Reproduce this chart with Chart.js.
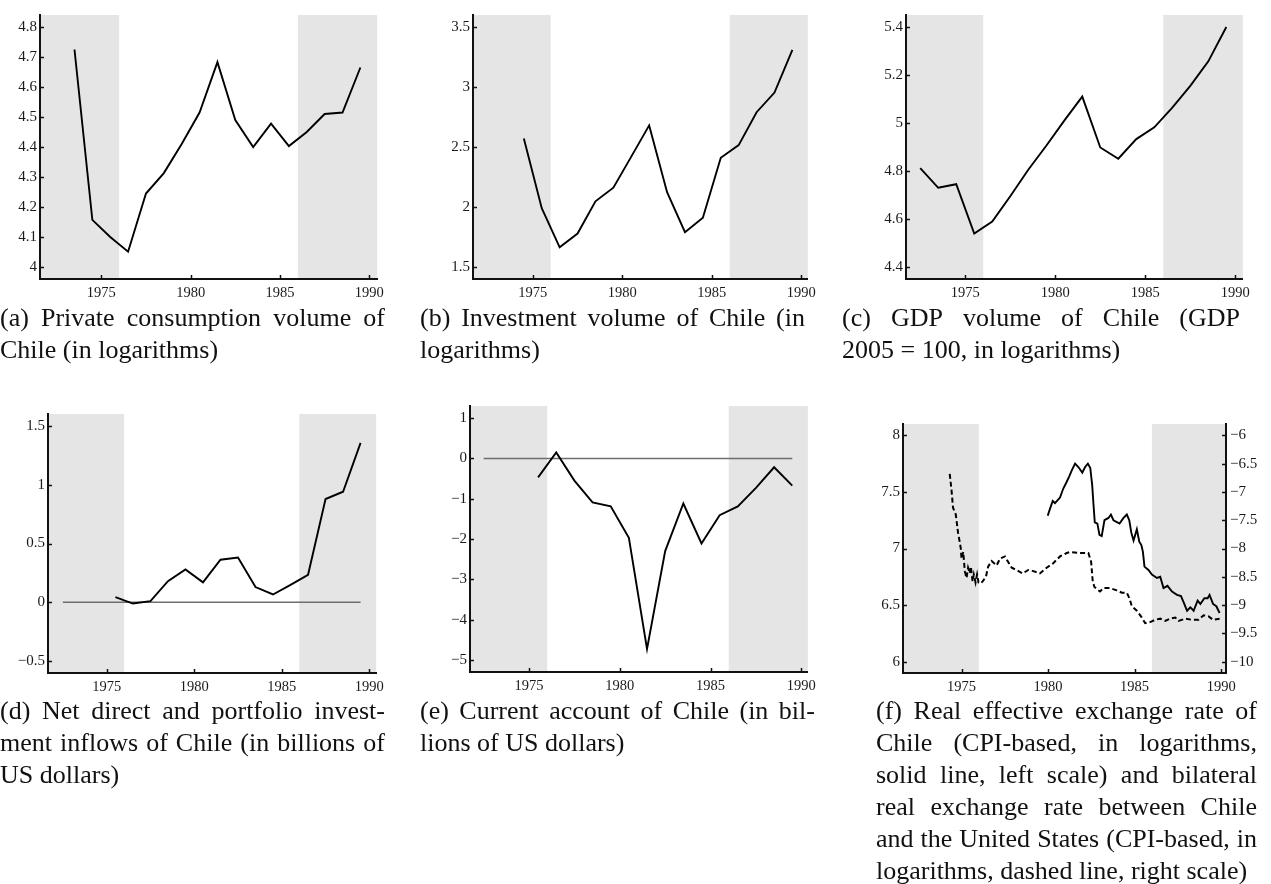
<!DOCTYPE html>
<html>
<head>
<meta charset="utf-8">
<script src="https://cdn.jsdelivr.net/npm/chart.js@4.4.1/dist/chart.umd.min.js"></script>
<style>
  body { margin: 0; background: #fff; width: 1271px; height: 884px; position: relative; overflow: hidden; }
  canvas { position: absolute; }
  .cap { position: absolute; font-family: 'Liberation Serif', 'Times New Roman', serif; font-size: 26px; line-height: 32px; color: #111; }
  .cap .j { display: flex; justify-content: space-between; white-space: nowrap; }
  .cap .l { white-space: nowrap; }
</style>
</head>
<body>
<script>
// shaded periods and axis ticks
const shadeEnds = 1976;
const shadeStarts = 1986;
const xTicks = [1975, 1980, 1985, 1990];

// (a) private consumption, logs
const consumptionYears = [1973.5, 1974.5, 1975.5, 1976.5, 1977.5, 1978.5, 1979.5, 1980.5, 1981.5, 1982.5, 1983.5, 1984.5, 1985.5, 1986.5, 1987.5, 1988.5, 1989.5];
const consumption = [4.725, 4.157, 4.10, 4.051, 4.245, 4.313, 4.41, 4.515, 4.683, 4.49, 4.40, 4.478, 4.403, 4.45, 4.51, 4.515, 4.665];
const consumptionTicks = [4, 4.1, 4.2, 4.3, 4.4, 4.5, 4.6, 4.7, 4.8];

// (b) investment, logs
const investmentYears = [1974.5, 1975.5, 1976.5, 1977.5, 1978.5, 1979.5, 1980.5, 1981.5, 1982.5, 1983.5, 1984.5, 1985.5, 1986.5, 1987.5, 1988.5, 1989.5];
const investment = [2.57, 1.99, 1.664, 1.779, 2.047, 2.161, 2.42, 2.68, 2.123, 1.79, 1.91, 2.41, 2.516, 2.79, 2.954, 3.309];
const investmentTicks = [1.5, 2, 2.5, 3, 3.5];

// (c) GDP volume, logs
const gdpYears = [1972.5, 1973.5, 1974.5, 1975.5, 1976.5, 1977.5, 1978.5, 1979.5, 1980.5, 1981.5, 1982.5, 1983.5, 1984.5, 1985.5, 1986.5, 1987.5, 1988.5, 1989.5];
const gdp = [4.812, 4.73, 4.745, 4.539, 4.589, 4.695, 4.805, 4.905, 5.01, 5.11, 4.898, 4.851, 4.933, 4.982, 5.064, 5.155, 5.257, 5.40];
const gdpTicks = [4.4, 4.6, 4.8, 5, 5.2, 5.4];

// (d) net direct and portfolio inflows, bn USD
const inflowYears = [1975.5, 1976.5, 1977.5, 1978.5, 1979.5, 1980.5, 1981.5, 1982.5, 1983.5, 1984.5, 1985.5, 1986.5, 1987.5, 1988.5, 1989.5];
const inflows = [0.045, -0.01, 0.01, 0.18, 0.28, 0.17, 0.362, 0.38, 0.13, 0.067, 0.148, 0.234, 0.878, 0.94, 1.355];
const inflowTicks = [-0.5, 0, 0.5, 1, 1.5];

// (e) current account, bn USD
const currentYears = [1975.5, 1976.5, 1977.5, 1978.5, 1979.5, 1980.5, 1981.5, 1982.5, 1983.5, 1984.5, 1985.5, 1986.5, 1987.5, 1988.5, 1989.5];
const currentAccount = [-0.47, 0.146, -0.55, -1.09, -1.19, -1.97, -4.73, -2.30, -1.12, -2.11, -1.41, -1.19, -0.73, -0.22, -0.675];
const currentTicks = [-5, -4, -3, -2, -1, 0, 1];

// zero reference line for (d) and (e)
const zeroYears = [1972.5, 1989.5];
const zeroLine = [0, 0];

// (f) real effective exchange rate (left scale)
const reerDates = [1979.98, 1980.11, 1980.27, 1980.40, 1980.69, 1980.88, 1981.08, 1981.23, 1981.37, 1981.56, 1981.75, 1981.98, 1982.14, 1982.30, 1982.44, 1982.55, 1982.62, 1982.70, 1982.85, 1982.97, 1983.10, 1983.26, 1983.49, 1983.63, 1983.78, 1984.13, 1984.36, 1984.55, 1984.69, 1984.81, 1984.94, 1985.13, 1985.27, 1985.39, 1985.48, 1985.57, 1985.80, 1986.00, 1986.29, 1986.48, 1986.67, 1986.90, 1987.16, 1987.45, 1987.68, 1987.87, 1988.03, 1988.22, 1988.41, 1988.64, 1988.80, 1989.03, 1989.22, 1989.33, 1989.53, 1989.72, 1989.91];
const reer = [7.29, 7.35, 7.42, 7.40, 7.45, 7.53, 7.59, 7.64, 7.69, 7.75, 7.72, 7.67, 7.72, 7.75, 7.71, 7.56, 7.40, 7.23, 7.22, 7.12, 7.11, 7.25, 7.27, 7.30, 7.25, 7.22, 7.27, 7.30, 7.25, 7.14, 7.07, 7.17, 7.06, 7.03, 6.97, 6.84, 6.81, 6.77, 6.74, 6.75, 6.65, 6.67, 6.62, 6.59, 6.58, 6.51, 6.45, 6.48, 6.45, 6.54, 6.51, 6.56, 6.56, 6.59, 6.51, 6.49, 6.43];
const reerTicks = [6, 6.5, 7, 7.5, 8];

// (f) bilateral real exchange rate Chile/US (right scale)
const bilateralDates = [1974.32, 1974.42, 1974.51, 1974.67, 1974.80, 1974.86, 1974.96, 1975.00, 1975.10, 1975.19, 1975.29, 1975.38, 1975.48, 1975.54, 1975.64, 1975.71, 1975.81, 1975.90, 1975.98, 1976.10, 1976.22, 1976.41, 1976.54, 1976.74, 1977.03, 1977.22, 1977.51, 1977.70, 1977.90, 1978.18, 1978.53, 1978.86, 1979.15, 1979.53, 1979.92, 1980.30, 1980.69, 1981.08, 1981.27, 1981.85, 1982.33, 1982.49, 1982.58, 1982.68, 1983.00, 1983.20, 1983.59, 1983.97, 1984.26, 1984.55, 1984.70, 1984.84, 1985.13, 1985.42, 1985.61, 1985.90, 1986.19, 1986.48, 1986.77, 1987.06, 1987.35, 1987.54, 1987.93, 1988.32, 1988.70, 1988.99, 1989.28, 1989.53, 1989.91];
const bilateral = [-6.68, -6.96, -7.28, -7.40, -7.72, -7.82, -8.00, -8.18, -8.06, -8.40, -8.52, -8.34, -8.44, -8.32, -8.58, -8.46, -8.60, -8.46, -8.60, -8.62, -8.58, -8.50, -8.32, -8.22, -8.30, -8.18, -8.14, -8.24, -8.34, -8.38, -8.44, -8.38, -8.40, -8.44, -8.34, -8.26, -8.14, -8.08, -8.06, -8.08, -8.08, -8.24, -8.58, -8.68, -8.76, -8.70, -8.70, -8.74, -8.78, -8.78, -8.88, -9.02, -9.10, -9.22, -9.32, -9.30, -9.26, -9.24, -9.28, -9.24, -9.22, -9.28, -9.24, -9.26, -9.26, -9.18, -9.20, -9.26, -9.24];
const bilateralTicks = [-10, -9.5, -9, -8.5, -8, -7.5, -7, -6.5, -6];

const captionA = ['(a) Private consumption volume of', 'Chile (in logarithms)'];
const captionB = ['(b) Investment volume of Chile (in', 'logarithms)'];
const captionC = ['(c) GDP volume of Chile (GDP', '2005 = 100, in logarithms)'];
const captionD = ['(d) Net direct and portfolio invest-', 'ment inflows of Chile (in billions of', 'US dollars)'];
const captionE = ['(e) Current account of Chile (in bil-', 'lions of US dollars)'];
const captionF = ['(f) Real effective exchange rate of', 'Chile (CPI-based, in logarithms,', 'solid line, left scale) and bilateral', 'real exchange rate between Chile', 'and the United States (CPI-based, in', 'logarithms, dashed line, right scale)'];

const serif = "'Liberation Serif', 'Times New Roman', serif";
const fmt = v => String(v).replace('-', '\u2212');
const pts = (xs, ys) => xs.map((x, i) => ({ x, y: ys[i] }));

// grey bands + inward tick marks
const framePlugin = {
    id: 'frame',
    beforeDraw(chart) {
        const { ctx, chartArea: a, scales: { x } } = chart;
        const x1 = x.getPixelForValue(shadeEnds);
        const x2 = x.getPixelForValue(shadeStarts);
        ctx.save();
        ctx.fillStyle = '#e5e5e5';
        ctx.fillRect(a.left, a.top, x1 - a.left, a.bottom - a.top);
        ctx.fillRect(x2, a.top, a.right - x2, a.bottom - a.top);
        ctx.restore();
    },
    afterDraw(chart) {
        const { ctx, chartArea: a } = chart;
        ctx.save();
        ctx.strokeStyle = '#111';
        ctx.lineWidth = 1.5;
        ctx.beginPath();
        Object.values(chart.scales).forEach(s => {
            s.ticks.forEach(t => {
                const p = Math.round(s.getPixelForValue(t.value)) + 0.5;
                if (s.axis === 'x') { ctx.moveTo(p, a.bottom); ctx.lineTo(p, a.bottom - 4); }
                else if (s.position === 'left') { ctx.moveTo(a.left, p); ctx.lineTo(a.left + 4, p); }
                else { ctx.moveTo(a.right, p); ctx.lineTo(a.right - 4, p); }
            });
        });
        ctx.stroke();
        ctx.restore();
    }
};

function yScale(min, max, ticks, position, width) {
    return {
        type: 'linear', position, min, max,
        afterBuildTicks: s => { s.ticks = ticks.map(v => ({ value: v })); },
        afterFit: s => { s.width = width; },
        grid: { display: false, drawTicks: false },
        border: { display: true, color: '#111', width: 2, z: 1 },
        ticks: { padding: position === 'left' ? 3 : 4, color: '#1a1a1a', font: { family: serif, size: 15 }, callback: v => fmt(v) }
    };
}

function makeChart(p) {
    const YW = 45, PT = 8, XH = 30;
    const PR = p.y2 ? 45 : 8;
    const w = (p.R - p.L) + YW + PR;
    const h = (p.B - p.T) + PT + XH;
    const c = document.createElement('canvas');
    c.width = w; c.height = h;
    c.style.left = (p.L - YW) + 'px';
    c.style.top = (p.T - PT) + 'px';
    document.body.appendChild(c);

    const scales = {
        x: {
            type: 'linear', min: p.xMin, max: p.xMax,
            afterBuildTicks: s => { s.ticks = xTicks.map(v => ({ value: v })); },
            afterFit: s => { s.height = XH; },
            grid: { display: false, drawTicks: false },
            border: { display: true, color: '#111', width: 2, z: 1 },
            ticks: { autoSkip: false, maxRotation: 0, padding: 5, color: '#1a1a1a', font: { family: serif, size: 14.5 }, callback: v => String(v) }
        },
        y: yScale(p.yMin, p.yMax, p.yTicks, 'left', YW)
    };
    if (p.y2) scales.y2 = yScale(p.y2.min, p.y2.max, p.y2.ticks, 'right', YW);

    new Chart(c, {
        type: 'line',
        data: { datasets: p.datasets },
        options: {
            responsive: false,
            animation: false,
            layout: { padding: { top: PT, right: p.y2 ? 0 : PR, left: 0, bottom: 0 } },
            elements: { point: { radius: 0 }, line: { tension: 0, borderCapStyle: 'butt', borderJoinStyle: 'miter' } },
            plugins: { legend: { display: false }, tooltip: { enabled: false } },
            scales
        },
        plugins: [framePlugin]
    });
}

const mainLine = (xs, ys, extra) => Object.assign({ data: pts(xs, ys), borderColor: '#000', borderWidth: 1.9, fill: false }, extra || {});
const zeroSet = () => ({ data: pts(zeroYears, zeroLine), borderColor: '#6e6e6e', borderWidth: 1.5, fill: false });

makeChart({ L: 40, T: 11, R: 381, B: 279, xMin: 1971.57, xMax: 1990.44, yMin: 3.96, yMax: 4.84, yTicks: consumptionTicks,
    datasets: [mainLine(consumptionYears, consumption)] });
makeChart({ L: 473, T: 11, R: 813, B: 279, xMin: 1971.66, xMax: 1990.36, yMin: 1.40, yMax: 3.60, yTicks: investmentTicks,
    datasets: [mainLine(investmentYears, investment)] });
makeChart({ L: 906, T: 11, R: 1247, B: 279, xMin: 1971.71, xMax: 1990.42, yMin: 4.35, yMax: 5.45, yTicks: gdpTicks,
    datasets: [mainLine(gdpYears, gdp)] });
makeChart({ L: 48, T: 410, R: 381, B: 673, xMin: 1971.65, xMax: 1990.39, yMin: -0.6, yMax: 1.6, yTicks: inflowTicks,
    datasets: [mainLine(inflowYears, inflows), zeroSet()] });
makeChart({ L: 470, T: 402, R: 813, B: 672, xMin: 1971.75, xMax: 1990.36, yMin: -5.3, yMax: 1.3, yTicks: currentTicks,
    datasets: [mainLine(currentYears, currentAccount), zeroSet()] });
makeChart({ L: 903, T: 419, R: 1226, B: 673, xMin: 1971.62, xMax: 1990.28, yMin: 5.9, yMax: 8.1, yTicks: reerTicks,
    y2: { min: -10.2, max: -5.8, ticks: bilateralTicks },
    datasets: [
        mainLine(reerDates, reer, { yAxisID: 'y', borderWidth: 1.9 }),
        mainLine(bilateralDates, bilateral, { yAxisID: 'y2', borderWidth: 2, borderDash: [5, 3] })
    ] });

function caption(left, top, width, lines) {
    const box = document.createElement('div');
    box.className = 'cap';
    box.style.left = left + 'px';
    box.style.top = top + 'px';
    box.style.width = width + 'px';
    lines.forEach((line, i) => {
        const row = document.createElement('div');
        if (i < lines.length - 1) {
            row.className = 'j';
            line.split(' ').forEach(word => {
                const s = document.createElement('span');
                s.textContent = word;
                row.appendChild(s);
            });
        } else {
            row.className = 'l';
            row.textContent = line;
        }
        box.appendChild(row);
    });
    document.body.appendChild(box);
}

caption(0, 302, 385, captionA);
caption(420, 302, 385, captionB);
caption(842, 302, 398, captionC);
caption(0, 695, 385, captionD);
caption(420, 695, 395, captionE);
caption(876, 695, 381, captionF);
</script>
</body>
</html>
